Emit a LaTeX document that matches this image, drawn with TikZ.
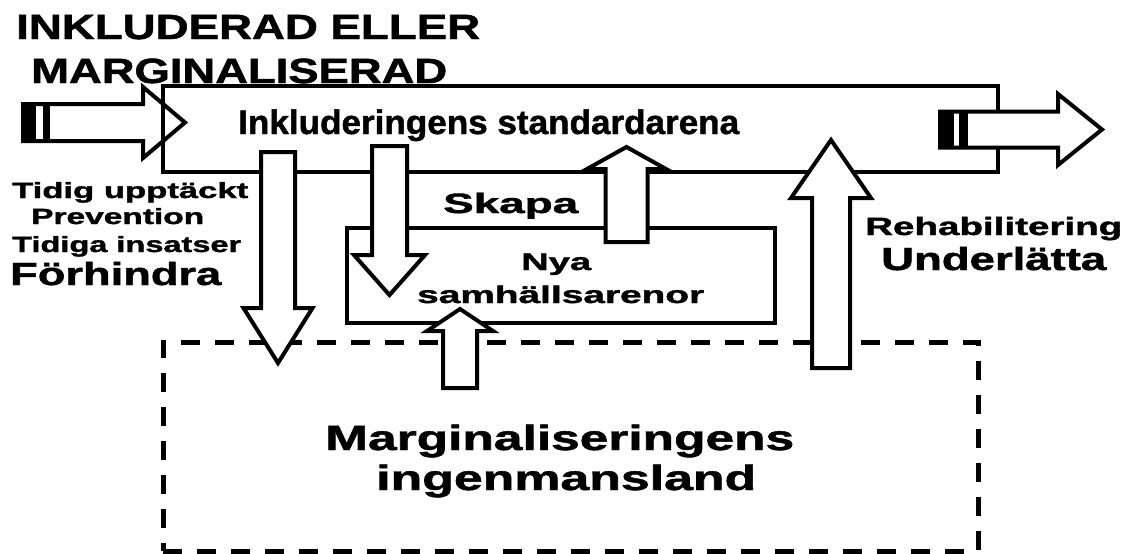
\documentclass[tikz,border=0pt]{standalone}
\usepackage{fontspec}
\setmainfont{Liberation Sans}[BoldFeatures={FakeBold=1.3}]
\usepackage{graphicx}
\newcommand{\fw}[2]{\resizebox{#1pt}{\height}{#2}}
\newcommand{\fsz}[1]{\fontsize{#1pt}{#1pt}\selectfont\bfseries}
\tikzset{
  blk/.style={draw=black, fill=white, line width=4pt, line join=miter},
  box/.style={draw=black, line width=4pt, inner sep=0pt, rectangle},
  dbox/.style={draw=black, line width=5pt, dash pattern=on 19pt off 15pt, inner sep=0pt, rectangle},
  lbl/.style={anchor=base west, inner sep=0pt},
}
% vertical block arrow: xc, ystart, yhead, ytip, halfshaft, halfhead
\newcommand{\varrow}[6]{%
  \draw[blk] (#1-#5,#2) -- (#1-#5,#3) -- (#1-#6,#3) -- (#1,#4) -- (#1+#6,#3) -- (#1+#5,#3) -- (#1+#5,#2) -- cycle;}
% horizontal block arrow: yc, xstart, xhead, xtip, halfshaft, halfhead
\newcommand{\harrow}[6]{%
  \draw[blk] (#2,#1-#5) -- (#3,#1-#5) -- (#3,#1-#6) -- (#4,#1) -- (#3,#1+#6) -- (#3,#1+#5) -- (#2,#1+#5) -- cycle;}
\begin{document}
\begin{tikzpicture}[x=1pt,y=-1pt]
\useasboundingbox (0,0) rectangle (1128,554);
% left incoming arrow (behind the main box)
\harrow{122.5}{23}{143}{185}{18.5}{35.5}
\fill (23,104.25) rectangle (36,140.75);
\fill (43,104.25) rectangle (50,140.75);
% boxes
\node[box, minimum width=835pt, minimum height=86pt] (main) at (580.5,129) {};
\node[box, minimum width=428pt, minimum height=95pt] (nya) at (561,275.5) {};
\node[dbox, minimum width=815pt, minimum height=209pt] (marg) at (570.5,446.5) {};
% block arrows
\varrow{278}{152}{308}{363}{17}{34.5}
\varrow{389.5}{146}{255}{295}{17.5}{35.5}
\varrow{626.5}{242}{169}{147}{21}{39.5}
\varrow{460}{388}{331}{309}{17}{33}
\varrow{831}{368}{198}{140}{19}{40}
% right outgoing arrow
\harrow{129.5}{940}{1058}{1102}{18}{35.5}
\fill (940,111.5) rectangle (954,147.5);
\fill (959,111.5) rectangle (968,147.5);
% labels
\node[lbl, font=\fsz{35}] (t1) at (16,39) {\fw{464}{INKLUDERAD ELLER}};
\node[lbl, font=\fsz{35}] (t2) at (31,83) {\fw{416}{MARGINALISERAD}};
\node[lbl, font=\fsz{34}] (tmain) at (238,134) {\fw{501}{Inkluderingens standardarena}};
\node[lbl, font=\fsz{22}] (l1) at (12,198) {\fw{236}{Tidig upptäckt}};
\node[lbl, font=\fsz{22}] (l2) at (31,224) {\fw{173}{Prevention}};
\node[lbl, font=\fsz{22}] (l3) at (12,252) {\fw{229}{Tidiga insatser}};
\node[lbl, font=\fsz{32}] (l4) at (10,285) {\fw{211}{Förhindra}};
\node[lbl, font=\fsz{28}] (skapa) at (443,213) {\fw{135}{Skapa}};
\node[lbl, font=\fsz{24}] (n1) at (521,270) {\fw{70}{Nya}};
\node[lbl, font=\fsz{24}] (n2) at (417,303) {\fw{287}{samhällsarenor}};
\node[lbl, font=\fsz{25}] (r1) at (865,235) {\fw{257}{Rehabilitering}};
\node[lbl, font=\fsz{32}] (r2) at (881,270) {\fw{225}{Underlätta}};
\node[lbl, font=\fsz{35}] (m1) at (325,450) {\fw{469}{Marginaliseringens}};
\node[lbl, font=\fsz{35}] (m2) at (376,490) {\fw{380}{ingenmansland}};
\end{tikzpicture}
\end{document}
